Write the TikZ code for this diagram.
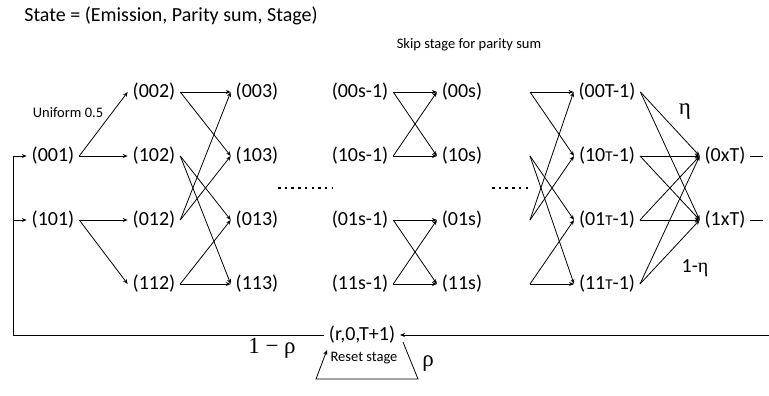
\documentclass[tikz,border=0pt]{standalone}
\usepackage{fontspec}
\setmainfont{Carlito}
\newfontfamily\grk{Liberation Serif}
\usetikzlibrary{arrows.meta}
\newcommand{\sT}{{\fontsize{15}{15}\selectfont T}}
\begin{document}
\begin{tikzpicture}[x=1pt,y=-1pt,
  st/.style={font=\fontsize{20}{22}\selectfont, inner sep=0pt, outer sep=5pt},
  lbl/.style={font=\fontsize{14.5}{16}\selectfont, inner sep=0pt},
  ttl/.style={font=\fontsize{20}{22}\selectfont, inner sep=0pt},
  gr/.style={font=\fontsize{23}{25}\selectfont\grk, inner sep=0pt},
  ed/.style={line width=0.8pt, -{Stealth[length=5pt,width=4pt]}},
  ln/.style={line width=0.8pt},
  dots/.style={line width=2.5pt, dash pattern=on 2.5pt off 4.2pt}]
\useasboundingbox (0,0) rectangle (769,396);

% texts
\node[ttl] (title) at (171,16) {State = (Emission, Parity sum, Stage)};
\node[lbl] (skip) at (469,45) {Skip stage for parity sum};
\node[lbl] (unif) at (68,113) {Uniform 0.5};

% stage 1
\node[st] (n001) at (53,156) {(001)};
\node[st] (n101) at (53,220) {(101)};
% stage 2
\node[st] (n002) at (154,92) {(002)};
\node[st] (n102) at (154,156) {(102)};
\node[st] (n012) at (154,220) {(012)};
\node[st] (n112) at (154,284) {(112)};
% stage 3
\node[st] (n003) at (257,92) {(003)};
\node[st] (n103) at (257,156) {(103)};
\node[st] (n013) at (257,220) {(013)};
\node[st] (n113) at (257,284) {(113)};
% stage s-1
\node[st] (a00) at (360,92) {(00s-1)};
\node[st] (a10) at (360,156) {(10s-1)};
\node[st] (a01) at (360,220) {(01s-1)};
\node[st] (a11) at (360,284) {(11s-1)};
% stage s
\node[st] (b00) at (462,92) {(00s)};
\node[st] (b10) at (462,156) {(10s)};
\node[st] (b01) at (462,220) {(01s)};
\node[st] (b11) at (462,284) {(11s)};
% stage T-1
\node[st] (c00) at (607,92) {(00T-1)};
\node[st] (c10) at (607,156) {(10\sT-1)};
\node[st] (c01) at (607,220) {(01\sT-1)};
\node[st] (c11) at (607,284) {(11\sT-1)};
% stage T
\node[st] (x0) at (725,156) {(0xT)};
\node[st] (x1) at (725,220) {(1xT)};
\coordinate (x0e) at (763,156);
\coordinate (x1e) at (763,220);
\draw[ln] (x0.east) -- (x0e);
\draw[ln] (x1.east) -- (x1e);

% dots
\draw[dots] (278,188) -- (332,188);
\draw[dots] (492,188) -- (528,188);

% stage 1 -> 2
\draw[ed] (n001.east) -- (n002.west);
\draw[ed] (n001.east) -- (n102.west);
\draw[ed] (n101.east) -- (n012.west);
\draw[ed] (n101.east) -- (n112.west);

% stage 2 -> 3
\draw[ed] (n002.east) -- (n003.west);
\draw[ed] (n002.east) -- (n103.west);
\draw[ed] (n102.east) -- (n013.west);
\draw[ed] (n102.east) -- (n113.west);
\draw[ed] (n012.east) -- (n003.west);
\draw[ed] (n012.east) -- (n103.west);
\draw[ed] (n112.east) -- (n113.west);
\draw[ed] (n112.east) -- (n013.west);

% stage s-1 -> s
\draw[ed] (a00.east) -- (b00.west);
\draw[ed] (a00.east) -- (b10.west);
\draw[ed] (a10.east) -- (b00.west);
\draw[ed] (a10.east) -- (b10.west);
\draw[ed] (a01.east) -- (b01.west);
\draw[ed] (a01.east) -- (b11.west);
\draw[ed] (a11.east) -- (b01.west);
\draw[ed] (a11.east) -- (b11.west);

% free starts -> T-1
\coordinate (p1) at (530,92);
\coordinate (p2) at (530,156);
\coordinate (p3) at (530,220);
\coordinate (p4) at (530,284);
\draw[ed] (p1) -- (c00.west);
\draw[ed] (p1) -- (c10.west);
\draw[ed] (p2) -- (c01.west);
\draw[ed] (p2) -- (c11.west);
\draw[ed] (p3) -- (c00.west);
\draw[ed] (p3) -- (c10.west);
\draw[ed] (p4) -- (c11.west);
\draw[ed] (p4) -- (c01.west);

% T-1 -> T
\draw[ed] (c00.east) -- (x0.west);
\draw[ed] (c00.east) -- (x1.west);
\draw[ed] (c10.east) -- (x0.west);
\draw[ed] (c10.east) -- (x1.west);
\draw[ed] (c01.east) -- (x1.west);
\draw[ed] (c01.east) -- (x0.west);
\draw[ed] (c11.east) -- (x0.west);
\draw[ed] (c11.east) -- (x1.west);
\node[gr] (eta) at (685,112) {η};
\node[ttl] (meta) at (695,268) {1-{\grk η}};

% reset stage
\node[st] (r) at (362,335) {(r,0,T+1)};
\coordinate (L) at (13,335);
\coordinate (Lt) at (13,156);
\coordinate (Lm) at (13,220);
\coordinate (R) at (769,335);
\draw[ln] (r.west) -- (L) -- (Lt);
\draw[ed] (Lt) -- (n001.west);
\draw[ed] (Lm) -- (n101.west);
\draw[ed] (R) -- (r.east);
\coordinate (ttr) at (403,342);
\coordinate (tbr) at (418,379);
\coordinate (tbl) at (316,379);
\coordinate (ttl) at (327,350);
\draw[ed] (ttr) -- (tbr) -- (tbl) -- (ttl);
\node[gr] (omr) at (272,348) {1 − ρ};
\node[lbl] (rst) at (364,358) {Reset stage};
\node[gr] (rho) at (428,364) {ρ};
\end{tikzpicture}
\end{document}
